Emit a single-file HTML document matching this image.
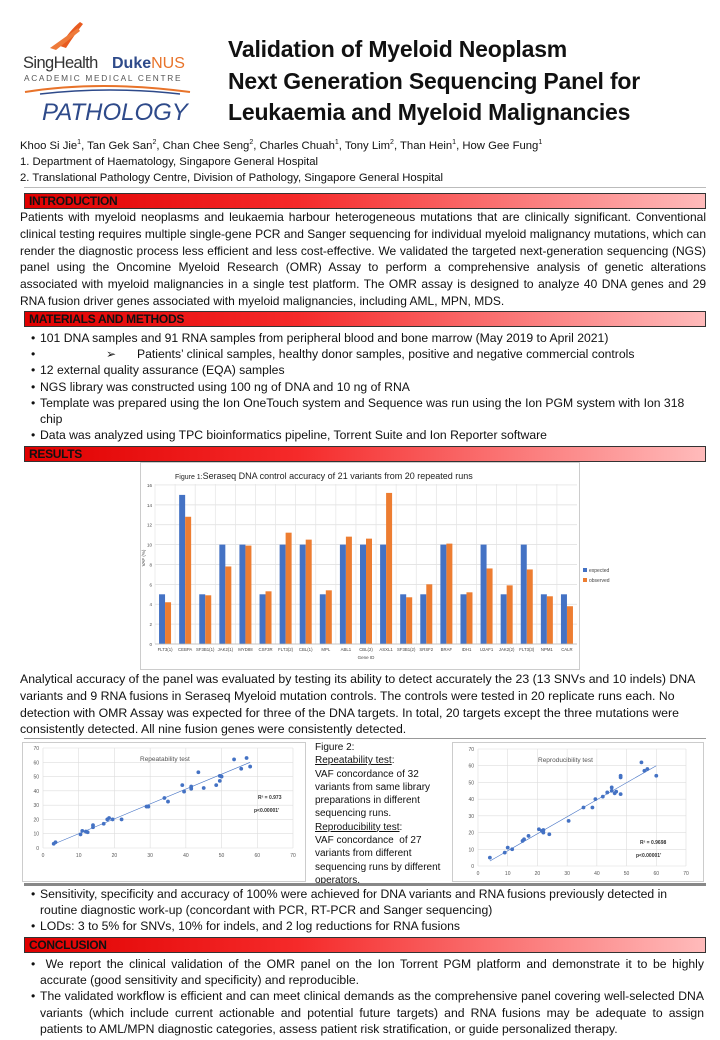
<!DOCTYPE html>
<html><head><meta charset="utf-8"><style>
*{margin:0;padding:0;box-sizing:border-box}
body{width:720px;height:1040px;background:#fff;position:relative;overflow:hidden;font-family:"Liberation Sans",sans-serif;color:#111}
.a{position:absolute}
.hdr{position:absolute;left:24px;width:682px;height:16px;border:1px solid #333;background:linear-gradient(to right,#e00000 0%,#f52a2a 40%,#fbb 100%);font-weight:bold;font-size:12px;line-height:14px;padding-left:4px;letter-spacing:-0.3px}
.p{position:absolute;left:20px;width:686px;font-size:12px;line-height:16.8px;text-align:justify;letter-spacing:0}
.b{position:absolute;font-size:12.2px;line-height:16.2px;letter-spacing:0}
.b li{list-style:none;position:relative;padding-left:20px}
.b li:before{content:"•";position:absolute;left:11px}
sup{font-size:7px}
.t{font-weight:bold;font-size:23px;line-height:31.5px;letter-spacing:-0.2px}
.f2{font-size:10px;line-height:13.3px;font-family:"Liberation Sans Narrow","Liberation Sans",sans-serif}
</style></head><body>
<svg class="a" style="left:0;top:20px" width="230" height="110">
<path d="M60,26 Q70,10 80,2 L83,4 Q75,14 66,28 Z" fill="#e85b20"/>
<path d="M50,28 Q64,18 78,8 L80,11 Q66,22 56,30 Z" fill="#ee7a3a"/>
<text x="23" y="48" font-size="16.5" fill="#333" font-family="Liberation Sans" letter-spacing="-0.6">SingHealth</text>
<text x="112" y="48" font-size="16" font-weight="bold" fill="#2e4a8a" font-family="Liberation Sans">Duke<tspan fill="#e8732a" font-weight="normal">NUS</tspan></text>
<text x="24" y="61" font-size="8.3" fill="#555" letter-spacing="1.7" font-family="Liberation Sans">ACADEMIC MEDICAL CENTRE</text>
<path d="M25,72 Q100,60 190,72" stroke="#e8732a" stroke-width="2" fill="none"/>
<path d="M40,74 Q110,66 180,74" stroke="#2e4a8a" stroke-width="1.5" fill="none"/>
<text x="42" y="100" font-size="24" font-style="italic" fill="#2e4a8a" font-family="Liberation Sans">PATHOLOGY</text>
</svg>
<div class="a t" style="left:228px;top:34px">Validation of Myeloid Neoplasm<br>Next Generation Sequencing Panel for<br>Leukaemia and Myeloid Malignancies</div>
<div class="a" style="left:20px;top:135px;font-size:11.3px;line-height:16px">Khoo Si Jie<sup>1</sup>, Tan Gek San<sup>2</sup>, Chan Chee Seng<sup>2</sup>, Charles Chuah<sup>1</sup>, Tony Lim<sup>2</sup>, Than Hein<sup>1</sup>, How Gee Fung<sup>1</sup><br>1. Department of Haematology, Singapore General Hospital<br>2. Translational Pathology Centre, Division of Pathology, Singapore General Hospital</div>
<div class="a" style="left:24px;top:187px;width:682px;height:1px;background:#bbb"></div>
<div class="hdr" style="top:193px">INTRODUCTION</div>
<div class="p" style="top:209px">Patients with myeloid neoplasms and leukaemia harbour heterogeneous mutations that are clinically significant. Conventional clinical testing requires multiple single-gene PCR and Sanger sequencing for individual myeloid malignancy mutations, which can render the diagnostic process less efficient and less cost-effective. We validated the targeted next-generation sequencing (NGS) panel using the Oncomine Myeloid Research (OMR) Assay to perform a comprehensive analysis of genetic alterations associated with myeloid malignancies in a single test platform. The OMR assay is designed to analyze 40 DNA genes and 29 RNA fusion driver genes associated with myeloid malignancies, including AML, MPN, MDS.</div>
<div class="hdr" style="top:311px">MATERIALS AND METHODS</div>
<ul class="b" style="left:20px;top:330px;width:672px">
<li>101 DNA samples and 91 RNA samples from peripheral blood and bone marrow (May 2019 to April 2021)</li>
<li style="padding-left:117px">Patients’ clinical samples, healthy donor samples, positive and negative commercial controls<span style="position:absolute;left:86px">➢</span></li>
<li>12 external quality assurance (EQA) samples</li>
<li>NGS library was constructed using 100 ng of DNA and 10 ng of RNA</li>
<li>Template was prepared using the Ion OneTouch system and Sequence was run using the Ion PGM system with Ion 318 chip</li>
<li>Data was analyzed using TPC bioinformatics pipeline, Torrent Suite and Ion Reporter software</li>
</ul>
<div class="hdr" style="top:446px">RESULTS</div>
<svg class="a" style="left:140px;top:462px" width="440" height="208" font-family="Liberation Sans">
<rect x="0.5" y="0.5" width="439" height="207" fill="#fff" stroke="#ccc"/>
<text x="35" y="17" font-size="7" fill="#222">Figure 1:<tspan font-size="9">Seraseq DNA control accuracy of 21 variants from 20 repeated runs</tspan></text>
</svg>
<svg class="a" id="c1" style="left:140px;top:462px" width="520" height="208" font-family="Liberation Sans"></svg>
<div class="p" style="top:671px;font-size:12.3px;text-align:left;width:690px">Analytical accuracy of the panel was evaluated by testing its ability to detect accurately the 23 (13 SNVs and 10 indels) DNA variants and 9 RNA fusions in Seraseq Myeloid mutation controls. The controls were tested in 20 replicate runs each. No detection with OMR Assay was expected for three of the DNA targets. In total, 20 targets except the three mutations were consistently detected. All nine fusion genes were consistently detected.</div>
<div class="a" style="left:24px;top:738px;width:682px;height:1px;background:#999"></div>
<svg class="a" id="s1" style="left:22px;top:742px" width="284" height="140" font-family="Liberation Sans"></svg>
<div class="a f2" style="left:315px;top:741px">Figure 2:<br><u>Repeatability test</u>:<br>VAF concordance of 32<br>variants from same library<br>preparations in different<br>sequencing runs.<br><u>Reproducibility test</u>:<br>VAF concordance &nbsp;of 27<br>variants from different<br>sequencing runs by different<br>operators.</div>
<svg class="a" id="s2" style="left:452px;top:742px" width="252" height="140" font-family="Liberation Sans"></svg>
<div class="a" style="left:24px;top:883px;width:682px;height:3px;background:#888"></div>
<ul class="b" style="left:20px;top:886px;width:680px">
<li>Sensitivity, specificity and accuracy of 100% were achieved for DNA variants and RNA fusions previously detected in routine diagnostic work-up (concordant with PCR, RT-PCR and Sanger sequencing)</li>
<li>LODs: 3 to 5% for SNVs, 10% for indels, and 2 log reductions for RNA fusions</li>
</ul>
<div class="hdr" style="top:937px">CONCLUSION</div>
<ul class="b" style="left:20px;top:956px;width:684px;text-align:justify">
<li>&nbsp;We report the clinical validation of the OMR panel on the Ion Torrent PGM platform and demonstrate it to be highly accurate (good sensitivity and specificity) and reproducible.</li>
<li>The validated workflow is efficient and can meet clinical demands as the comprehensive panel covering well-selected DNA variants (which include current actionable and potential future targets) and RNA fusions may be adequate to assign patients to AML/MPN diagnostic categories, assess patient risk stratification, or guide personalized therapy.</li>
</ul>
<script>
var NS="http://www.w3.org/2000/svg";
function el(p,t,a,txt){var e=document.createElementNS(NS,t);for(var k in a)e.setAttribute(k,a[k]);if(txt!=null)e.textContent=txt;p.appendChild(e);return e;}
var c=document.getElementById('c1');
var L=15,R=437,Y0=182,sc=9.94;
for(var v=0;v<=16;v+=2){var y=Y0-v*sc;el(c,'line',{x1:L,x2:R,y1:y,y2:y,stroke:'#ddd','stroke-width':0.7});el(c,'text',{x:L-3,y:y+2,'font-size':4.5,'text-anchor':'end',fill:'#444'},v);}
var names=["FLT3(1)","CEBPA","SF3B1(1)","JAK2(1)","MYD88","CSF3R","FLT3(2)","CBL(1)","MPL","ABL1","CBL(2)","ASXL1","SF3B1(2)","SRSF2","BRAF","IDH1","U2AF1","JAK2(2)","FLT3(3)","NPM1","CALR"];
var ex=[5,15,5,10,10,5,10,10,5,10,10,10,5,5,10,5,10,5,10,5,5];
var ob=[4.2,12.8,4.9,7.8,9.9,5.3,11.2,10.5,5.4,10.8,10.6,15.2,4.7,6.0,10.1,5.2,7.6,5.9,7.5,4.8,3.8];
var w=(R-L)/21;
for(var i=0;i<21;i++){var x=L+i*w;el(c,'line',{x1:x,x2:x,y1:Y0-160,y2:Y0,stroke:'#e4e4e4','stroke-width':0.7});
var cx=x+w/2;el(c,'rect',{x:cx-6,y:Y0-ex[i]*sc,width:6,height:ex[i]*sc,fill:'#4472c4'});
el(c,'rect',{x:cx,y:Y0-ob[i]*sc,width:6,height:ob[i]*sc,fill:'#ed7d31'});
el(c,'text',{x:cx,y:Y0+7,'font-size':4.3,'text-anchor':'middle',fill:'#444'},names[i]);}
el(c,'line',{x1:L,x2:R,y1:Y0,y2:Y0,stroke:'#bbb','stroke-width':0.8});
el(c,'text',{x:226,y:Y0+15,'font-size':4.5,'text-anchor':'middle',fill:'#444'},'Gene ID');
el(c,'text',{x:5,y:96,'font-size':4.5,'text-anchor':'middle',fill:'#444',transform:'rotate(-90 5 96)'},'VAF (%)');
el(c,'rect',{x:443,y:106,width:4,height:4,fill:'#4472c4'});el(c,'text',{x:449,y:110,'font-size':5,fill:'#444'},'expected');
el(c,'rect',{x:443,y:116,width:4,height:4,fill:'#ed7d31'});el(c,'text',{x:449,y:120,'font-size':5,fill:'#444'},'observed');
function scat(id,x0,x1,y0,y1,title,tx,ty,r2,rx,ry,pts,ln){
var s=document.getElementById(id);var W=+s.getAttribute('width'),H=+s.getAttribute('height');
el(s,'rect',{x:0.5,y:0.5,width:W-1,height:H-1,fill:'#fff',stroke:'#ccc'});
var fx=function(v){return x0+(x1-x0)*v/70},fy=function(v){return y0-(y0-y1)*v/70};
for(var v=0;v<=70;v+=10){el(s,'line',{x1:fx(0),x2:fx(70),y1:fy(v),y2:fy(v),stroke:'#ddd','stroke-width':0.6});
el(s,'line',{x1:fx(v),x2:fx(v),y1:fy(0),y2:fy(70),stroke:'#ddd','stroke-width':0.6});
el(s,'text',{x:fx(0)-4,y:fy(v)+2,'font-size':5,'text-anchor':'end',fill:'#555'},v);
el(s,'text',{x:fx(v),y:fy(0)+9,'font-size':5,'text-anchor':'middle',fill:'#555'},v);}
el(s,'text',{x:tx,y:ty,'font-size':6.5,fill:'#555'},title);
el(s,'line',{x1:fx(ln[0]),y1:fy(ln[1]),x2:fx(ln[2]),y2:fy(ln[3]),stroke:'#4472c4','stroke-width':0.6});
pts.forEach(function(p){el(s,'circle',{cx:fx(p[0]),cy:fy(p[1]),r:1.9,fill:'#4472c4'});});
el(s,'text',{x:rx,y:ry,'font-size':5,'font-weight':'bold',fill:'#333'},r2);
el(s,'text',{x:rx-4,y:ry+13,'font-size':5,'font-weight':'bold',fill:'#333'},'p<0.00001’');}
scat('s1',21,271,106,6,'Repeatability test',118,19,'R² = 0.973',236,57,
[[3,3],[3.5,4],[10.5,9.5],[11,12],[12,11.5],[12.5,11],[14,16],[14,14.5],[17,17],[18,20],[18.5,21],[19.5,20],[22,20],[29,29],[29.5,29],[34,35],[35,32.5],[39,44],[39.5,39.5],[41.5,41.5],[41.5,43],[43.5,53],[45,42],[48.5,44],[49.5,50.5],[49.5,47],[50,50],[53.5,62],[55.5,55.5],[57,63],[58,57]],[3,2.7,58,60]);
scat('s2',26,234,124,7,'Reproducibility test',86,20,'R² = 0.9698',188,102,
[[4,5],[9,8],[10,11],[11.5,10],[15,15],[15.5,16],[17,18],[20.5,22],[21.5,21],[22,20],[22,21.5],[24,19],[30.5,27],[35.5,35],[38.5,35],[39.5,40],[42,41.5],[43.5,44],[45,47],[45,45],[46,43.5],[46.5,44.5],[48,43],[48,53],[48,54],[55,62],[56,57],[57,58],[60,54]],[4,3,60,60]);
</script>
</body></html>
